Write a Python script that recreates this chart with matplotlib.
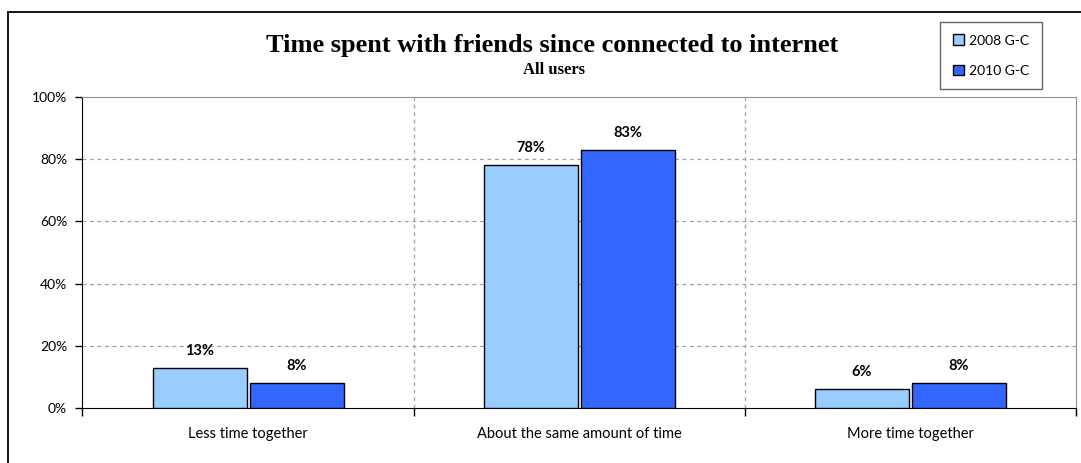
import matplotlib.pyplot as plt
from matplotlib.patches import Rectangle

categories = ["Less time together", "About the same amount of time", "More time together"]
series_names = ["2008 G-C", "2010 G-C"]
values_2008 = [13, 78, 6]
values_2010 = [8, 83, 8]
colors = ["#99CCFF", "#3366FF"]

fig = plt.figure(figsize=(10.81, 4.63), dpi=100)
ax = fig.add_axes([0.0763, 0.1188, 0.919, 0.6717])

# outer chart frame (cut at right/bottom like the original)
fig.patches.append(Rectangle((8 / 1081, -0.1), 1.2, 1 - 12 / 463 + 0.1,
                             transform=fig.transFigure, fill=False,
                             edgecolor="black", linewidth=1.3))

centers = [i + 0.5 for i in range(len(categories))]
width = 0.284
offset = 0.1465
for vals, col, name, sign in [(values_2008, colors[0], series_names[0], -1),
                              (values_2010, colors[1], series_names[1], 1)]:
    xs = [c + sign * offset for c in centers]
    ax.bar(xs, vals, width=width, color=col, edgecolor="black",
           linewidth=1.0, label=name, zorder=3)
    for x, v in zip(xs, vals):
        ax.text(x, v + 3.2, f"{v}%", ha="center", va="bottom",
                fontsize=10.5, fontweight="bold", family="Lato")

ax.set_xlim(0, 3)
ax.set_ylim(0, 100)

# gridlines
for y in [20, 40, 60, 80]:
    ax.axhline(y, color="#A0A0A0", linestyle=(0, (3, 3)), linewidth=0.9, zorder=1)
for x in [1, 2]:
    ax.axvline(x, color="#A0A0A0", linestyle=(0, (3, 3)), linewidth=0.9, zorder=1)

ax.spines["top"].set_color("#909090")
ax.spines["right"].set_color("#909090")
ax.spines["left"].set_color("black")
ax.spines["bottom"].set_color("black")

ax.set_yticks([0, 20, 40, 60, 80, 100])
ax.set_yticklabels([f"{t}%" for t in [0, 20, 40, 60, 80, 100]], family="Lato", fontsize=10)
ax.tick_params(axis="y", length=5, width=1, color="black", pad=6)

ax.set_xticks([0, 1, 2, 3])
ax.set_xticklabels([])
ax.set_xticks(centers, minor=True)
ax.set_xticklabels(categories, minor=True, family="Lato", fontsize=10.5)
ax.tick_params(axis="x", which="major", length=6, width=1, color="black")
ax.tick_params(axis="x", which="minor", length=0, pad=14)

fig.text(0.511, 0.888, "Time spent with friends since connected to internet",
         ha="center", va="baseline", family="Liberation Serif", fontweight="bold",
         fontsize=19)
fig.text(0.5125, 0.840, "All users", ha="center", va="baseline",
         family="Liberation Serif", fontweight="bold", fontsize=12)

leg = fig.legend(loc="upper left", bbox_to_anchor=(940 / 1081, 1 - 22 / 463),
                 prop={"family": "Lato", "size": 10}, frameon=True, fancybox=False,
                 handlelength=0.8, handleheight=0.8, labelspacing=1.3,
                 borderpad=0.9, handletextpad=0.4, borderaxespad=0)
leg.get_frame().set_edgecolor("#404040")
leg.get_frame().set_linewidth(1.0)

fig.savefig("out.png", dpi=100)
